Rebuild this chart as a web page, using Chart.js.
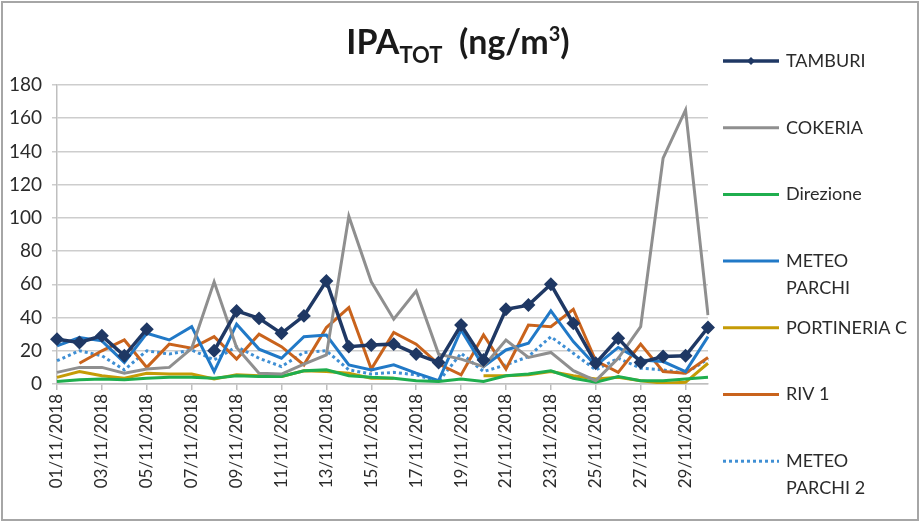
<!DOCTYPE html>
<html>
<head>
<meta charset="utf-8">
<script src="https://cdn.jsdelivr.net/npm/chart.js@4.4.1/dist/chart.umd.min.js"></script>
<style>
html,body{margin:0;padding:0;background:#fff;}
#wrap{position:relative;width:923px;height:525px;overflow:hidden;}
#frame{position:absolute;left:1px;top:1px;width:918px;height:520px;border:2px solid #a6a6a6;box-sizing:border-box;pointer-events:none;}
#title{position:absolute;left:0;width:916px;top:20px;text-align:center;font:bold 34px Lato, "Open Sans", sans-serif;color:#1a1a1a;white-space:nowrap;}
#title .sub{font-size:22px;position:relative;top:9px;}
#title .sup{font-size:20px;position:relative;top:-13px;}
canvas{position:absolute;left:0;top:0;}
</style>
</head>
<body>
<div id="wrap">
  <canvas id="chart1" width="923" height="525"></canvas>
  <div id="title">IPA<span class="sub">TOT</span>&nbsp; (ng/m<span class="sup">3</span>)</div>
  <div id="frame"></div>
</div>
<script>
var days = ['01/11/2018','02/11/2018','03/11/2018','04/11/2018','05/11/2018','06/11/2018',
  '07/11/2018','08/11/2018','09/11/2018','10/11/2018','11/11/2018','12/11/2018',
  '13/11/2018','14/11/2018','15/11/2018','16/11/2018','17/11/2018','18/11/2018',
  '19/11/2018','20/11/2018','21/11/2018','22/11/2018','23/11/2018','24/11/2018',
  '25/11/2018','26/11/2018','27/11/2018','28/11/2018','29/11/2018','30/11/2018'];

var tamburi = [27,25,29,17,33,null,null,20,44,39.5,30.5,41,62,22.5,23.5,24,18,13,35.5,14.5,45,47.5,60,36.5,12.5,27.5,13,16.5,17,34];
var cokeria = [7,10,10,6.5,9,10,21.5,61.5,22,6.5,6,12,17.5,101,61.5,39,56,18,15,10.5,26.5,16,19,8,2,15.5,34.5,136,165,41.5];
var direzione = [1.5,2.5,3,2.5,3.5,4,4,3.5,5,4.5,4.5,8,8.5,5,4,3.5,2,1.5,3,1.5,5,6,8,3.5,1,4.5,2,2,3,4];
var meteoParchi = [23,28,26,13,30.5,26.5,34.5,7.5,36,21,15.5,28.5,29.5,11.5,8.5,11.5,6.5,2,32.5,10.5,20.5,24.5,44,25.5,11,22,14.5,13.5,7.5,28.5];
var portineriaC = [4,7.5,5,3.5,6.5,6,6,3,5.5,5,4.5,8,7.5,6.5,3.5,3.5,null,null,null,5,5,5.5,7.5,5,3,4,2,0.5,1,12.5];
var riv1 = [null,12.5,20,26.5,10,24,21.5,28.5,15,30,22.5,11.5,34,46,9,31,24,12,5.5,29.5,9,35.5,34.5,45,14,7,24,7.5,6.5,16];
var meteoParchi2 = [14,20,17,8.5,20,18,20.5,14.5,22.5,15.5,10.5,19,20,8.5,6,7,5.5,1.5,18.5,7.5,11.5,16.5,28.5,18.5,8.5,15.5,9.5,8.5,6.5,15];

var yTicks = [0,20,40,60,80,100,120,140,160,180];

// legend text, wrapped like the original
var legendLines = [['TAMBURI'],['COKERIA'],['Direzione'],['METEO','PARCHI'],['PORTINERIA C'],['RIV 1'],['METEO','PARCHI 2']];

const sideLegend = {
  id: 'sideLegend',
  afterDraw(chart) {
    const ctx = chart.ctx;
    chart.data.datasets.forEach((ds, i) => {
      const y = 61 + i * 66.7;
      ctx.save();
      ctx.strokeStyle = ds.borderColor;
      ctx.lineWidth = ds.borderWidth;
      ctx.setLineDash(ds.borderDash || []);
      ctx.beginPath();
      ctx.moveTo(723, y);
      ctx.lineTo(779, y);
      ctx.stroke();
      ctx.setLineDash([]);
      if (ds.pointRadius > 0) {
        ctx.fillStyle = ds.borderColor;
        ctx.beginPath();
        ctx.moveTo(751, y - 4);
        ctx.lineTo(755, y);
        ctx.lineTo(751, y + 4);
        ctx.lineTo(747, y);
        ctx.closePath();
        ctx.fill();
      }
      ctx.fillStyle = '#2b2b2b';
      ctx.font = '18px Lato, "Open Sans", sans-serif';
      ctx.textBaseline = 'middle';
      legendLines[i].forEach((t, k) => ctx.fillText(t, 786, y + k * 27));
      ctx.restore();
    });
  }
};

function line(label, data, color, width, extra) {
  return Object.assign({
    label: label,
    data: data,
    borderColor: color,
    backgroundColor: color,
    borderWidth: width,
    lineTension: 0,
    pointRadius: 0,
    pointHoverRadius: 0,
    fill: false
  }, extra || {});
}

new Chart('chart1', {
  type: 'line',
  data: {
    labels: days,
    datasets: [
      line('TAMBURI', tamburi, '#1f3864', 3.5, {pointStyle: 'rectRot', pointRadius: 4.5}),
      line('COKERIA', cokeria, '#8f8f8f', 3),
      line('Direzione', direzione, '#1fae4e', 3),
      line('METEO PARCHI', meteoParchi, '#2179c7', 3),
      line('PORTINERIA C', portineriaC, '#c59b06', 3),
      line('RIV 1', riv1, '#c9631c', 3),
      line('METEO PARCHI 2', meteoParchi2, '#3f8fd4', 3, {borderDash: [3, 3]})
    ]
  },
  options: {
    responsive: false,
    animation: false,
    layout: {padding: {top: 85, right: 215, left: 0, bottom: 0}},
    plugins: {
      legend: {display: false},
      title: {display: false},
      tooltip: {enabled: false}
    },
    scales: {
      x: {
        offset: false,
        afterFit: (s) => { s.height = 141; },
        grid: {
          display: true,
          drawOnChartArea: false,
          drawTicks: true,
          tickLength: 6,
          color: '#bfbfbf',
          lineWidth: 1.5
        },
        border: {display: true, color: '#bfbfbf', width: 1.5},
        ticks: {
          autoSkip: false,
          maxRotation: 90,
          minRotation: 90,
          padding: 4,
          color: '#2b2b2b',
          font: {family: 'Lato, "Open Sans", sans-serif', size: 17},
          callback: function (v, i) { return i % 2 === 0 ? days[i] : null; }
        }
      },
      y: {
        min: 0,
        max: 180,
        afterFit: (s) => { s.width = 57; },
        afterBuildTicks: (s) => { s.ticks = yTicks.map(v => ({value: v})); },
        grid: {
          color: '#cdcdcd',
          lineWidth: 1.5,
          tickLength: 5,
          drawTicks: true
        },
        border: {display: true, color: '#bfbfbf', width: 1.5},
        ticks: {
          padding: 10,
          color: '#2b2b2b',
          font: {family: 'Lato, "Open Sans", sans-serif', size: 19}
        }
      }
    }
  },
  plugins: [sideLegend]
});
</script>
</body>
</html>
